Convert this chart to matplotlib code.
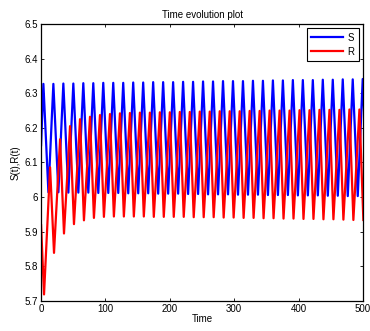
import numpy as np
import matplotlib
matplotlib.use('Agg')
import matplotlib.pyplot as plt
from matplotlib.ticker import FormatStrFormatter

plt.rcParams['font.family'] = ['Liberation Sans', 'DejaVu Sans']

# S(t): start value, then peaks and troughs
s_start = (0.0, 6.15)
s_peak_t = [3.6, 19.1, 34.6, 50.1, 65.6, 81.1, 96.6, 112.1, 127.6, 143.1, 158.6,
            174.1, 189.6, 205.1, 220.6, 236.1, 251.6, 267.1, 282.6, 298.1, 313.6,
            329.1, 344.6, 360.1, 375.6, 391.1, 406.6, 422.1, 437.6, 453.1, 468.6,
            484.1, 499.6]
s_peak_v = [6.327, 6.327, 6.328, 6.328, 6.329, 6.329, 6.330, 6.330, 6.330, 6.331,
            6.331, 6.332, 6.332, 6.332, 6.333, 6.333, 6.334, 6.334, 6.335, 6.335,
            6.335, 6.336, 6.336, 6.337, 6.337, 6.338, 6.338, 6.338, 6.339, 6.339,
            6.340, 6.340, 6.341]
s_trough_t = [11.4, 26.9, 42.4, 57.9, 73.4, 88.9, 104.4, 119.9, 135.4, 150.9, 166.4,
              181.9, 197.4, 212.9, 228.4, 243.9, 259.4, 274.9, 290.4, 305.9, 321.4,
              336.9, 352.4, 367.9, 383.4, 398.9, 414.4, 429.9, 445.4, 460.9, 476.4,
              491.9, 507.4]
s_trough_v = [6.014, 6.014, 6.013, 6.013, 6.013, 6.012, 6.012, 6.012, 6.011, 6.011,
              6.011, 6.010, 6.010, 6.010, 6.009, 6.009, 6.008, 6.008, 6.008, 6.007,
              6.007, 6.007, 6.006, 6.006, 6.006, 6.005, 6.005, 6.005, 6.004, 6.004,
              6.003, 6.003, 6.003]

# R(t)
r_start = (0.0, 5.919)
r_peak_t = [14.0, 29.5, 45.0, 60.5, 76.0, 91.5, 107.0, 122.5, 138.0, 153.5, 169.0,
            184.5, 200.0, 215.5, 231.0, 246.5, 262.0, 277.5, 293.0, 308.5, 324.0,
            339.5, 355.0, 370.5, 386.0, 401.5, 417.0, 432.5, 448.0, 463.5, 479.0,
            494.5]
r_peak_v = [6.086, 6.167, 6.205, 6.225, 6.232, 6.237, 6.240, 6.242, 6.243, 6.244,
            6.244, 6.245, 6.245, 6.246, 6.246, 6.247, 6.247, 6.248, 6.248, 6.248,
            6.249, 6.249, 6.250, 6.250, 6.250, 6.251, 6.251, 6.252, 6.252, 6.252,
            6.253, 6.253]
r_trough_t = [4.6, 20.1, 35.6, 51.1, 66.6, 82.1, 97.6, 113.1, 128.6, 144.1, 159.6,
              175.1, 190.6, 206.1, 221.6, 237.1, 252.6, 268.1, 283.6, 299.1, 314.6,
              330.1, 345.6, 361.1, 376.6, 392.1, 407.6, 423.1, 438.6, 454.1, 469.6,
              485.1, 500.6]
r_trough_v = [5.719, 5.839, 5.895, 5.922, 5.933, 5.940, 5.943, 5.944, 5.944, 5.944,
              5.944, 5.943, 5.943, 5.943, 5.943, 5.942, 5.942, 5.942, 5.941, 5.941,
              5.940, 5.940, 5.939, 5.939, 5.938, 5.938, 5.937, 5.937, 5.936, 5.936,
              5.935, 5.934, 5.934]


def series(start, pt, pv, tt, tv):
    t = np.concatenate([[start[0]], pt, tt])
    v = np.concatenate([[start[1]], pv, tv])
    order = np.argsort(t)
    return t[order], v[order]


s_t, s_v = series(s_start, s_peak_t, s_peak_v, s_trough_t, s_trough_v)
r_t, r_v = series(r_start, r_peak_t, r_peak_v, r_trough_t, r_trough_v)

fig = plt.figure(figsize=(3.7, 3.31), dpi=100)
ax = fig.add_axes([0.111, 0.0906, 0.870, 0.837])
ax.plot(s_t, s_v, color='#0000ff', linewidth=1.6, solid_joinstyle='round', label='S')
ax.plot(r_t, r_v, color='#ff0000', linewidth=1.6, solid_joinstyle='round', label='R')

ax.set_xlim(0, 500)
ax.set_ylim(5.7, 6.5)
ax.set_xticks([0, 100, 200, 300, 400, 500])
ax.set_yticks([5.7, 5.8, 5.9, 6.0, 6.1, 6.2, 6.3, 6.4, 6.5])
ax.yaxis.set_major_formatter(FormatStrFormatter('%g'))
ax.tick_params(direction='in', length=2.5, width=0.6, labelsize=7,
               top=True, right=True, pad=2)
for sp in ax.spines.values():
    sp.set_linewidth(0.9)

ax.set_title('Time evolution plot', fontsize=7, pad=4)
ax.set_xlabel('Time', fontsize=7, labelpad=0)
ax.set_ylabel('S(t),R(t)', fontsize=7, labelpad=3)

leg = ax.legend(loc='upper right', fontsize=7, handlelength=3.3, fancybox=False,
                edgecolor='black', framealpha=1, borderaxespad=0.45,
                borderpad=0.45, labelspacing=0.4, handletextpad=0.4)
leg.get_frame().set_linewidth(0.8)

fig.savefig('out.png', dpi=100)
